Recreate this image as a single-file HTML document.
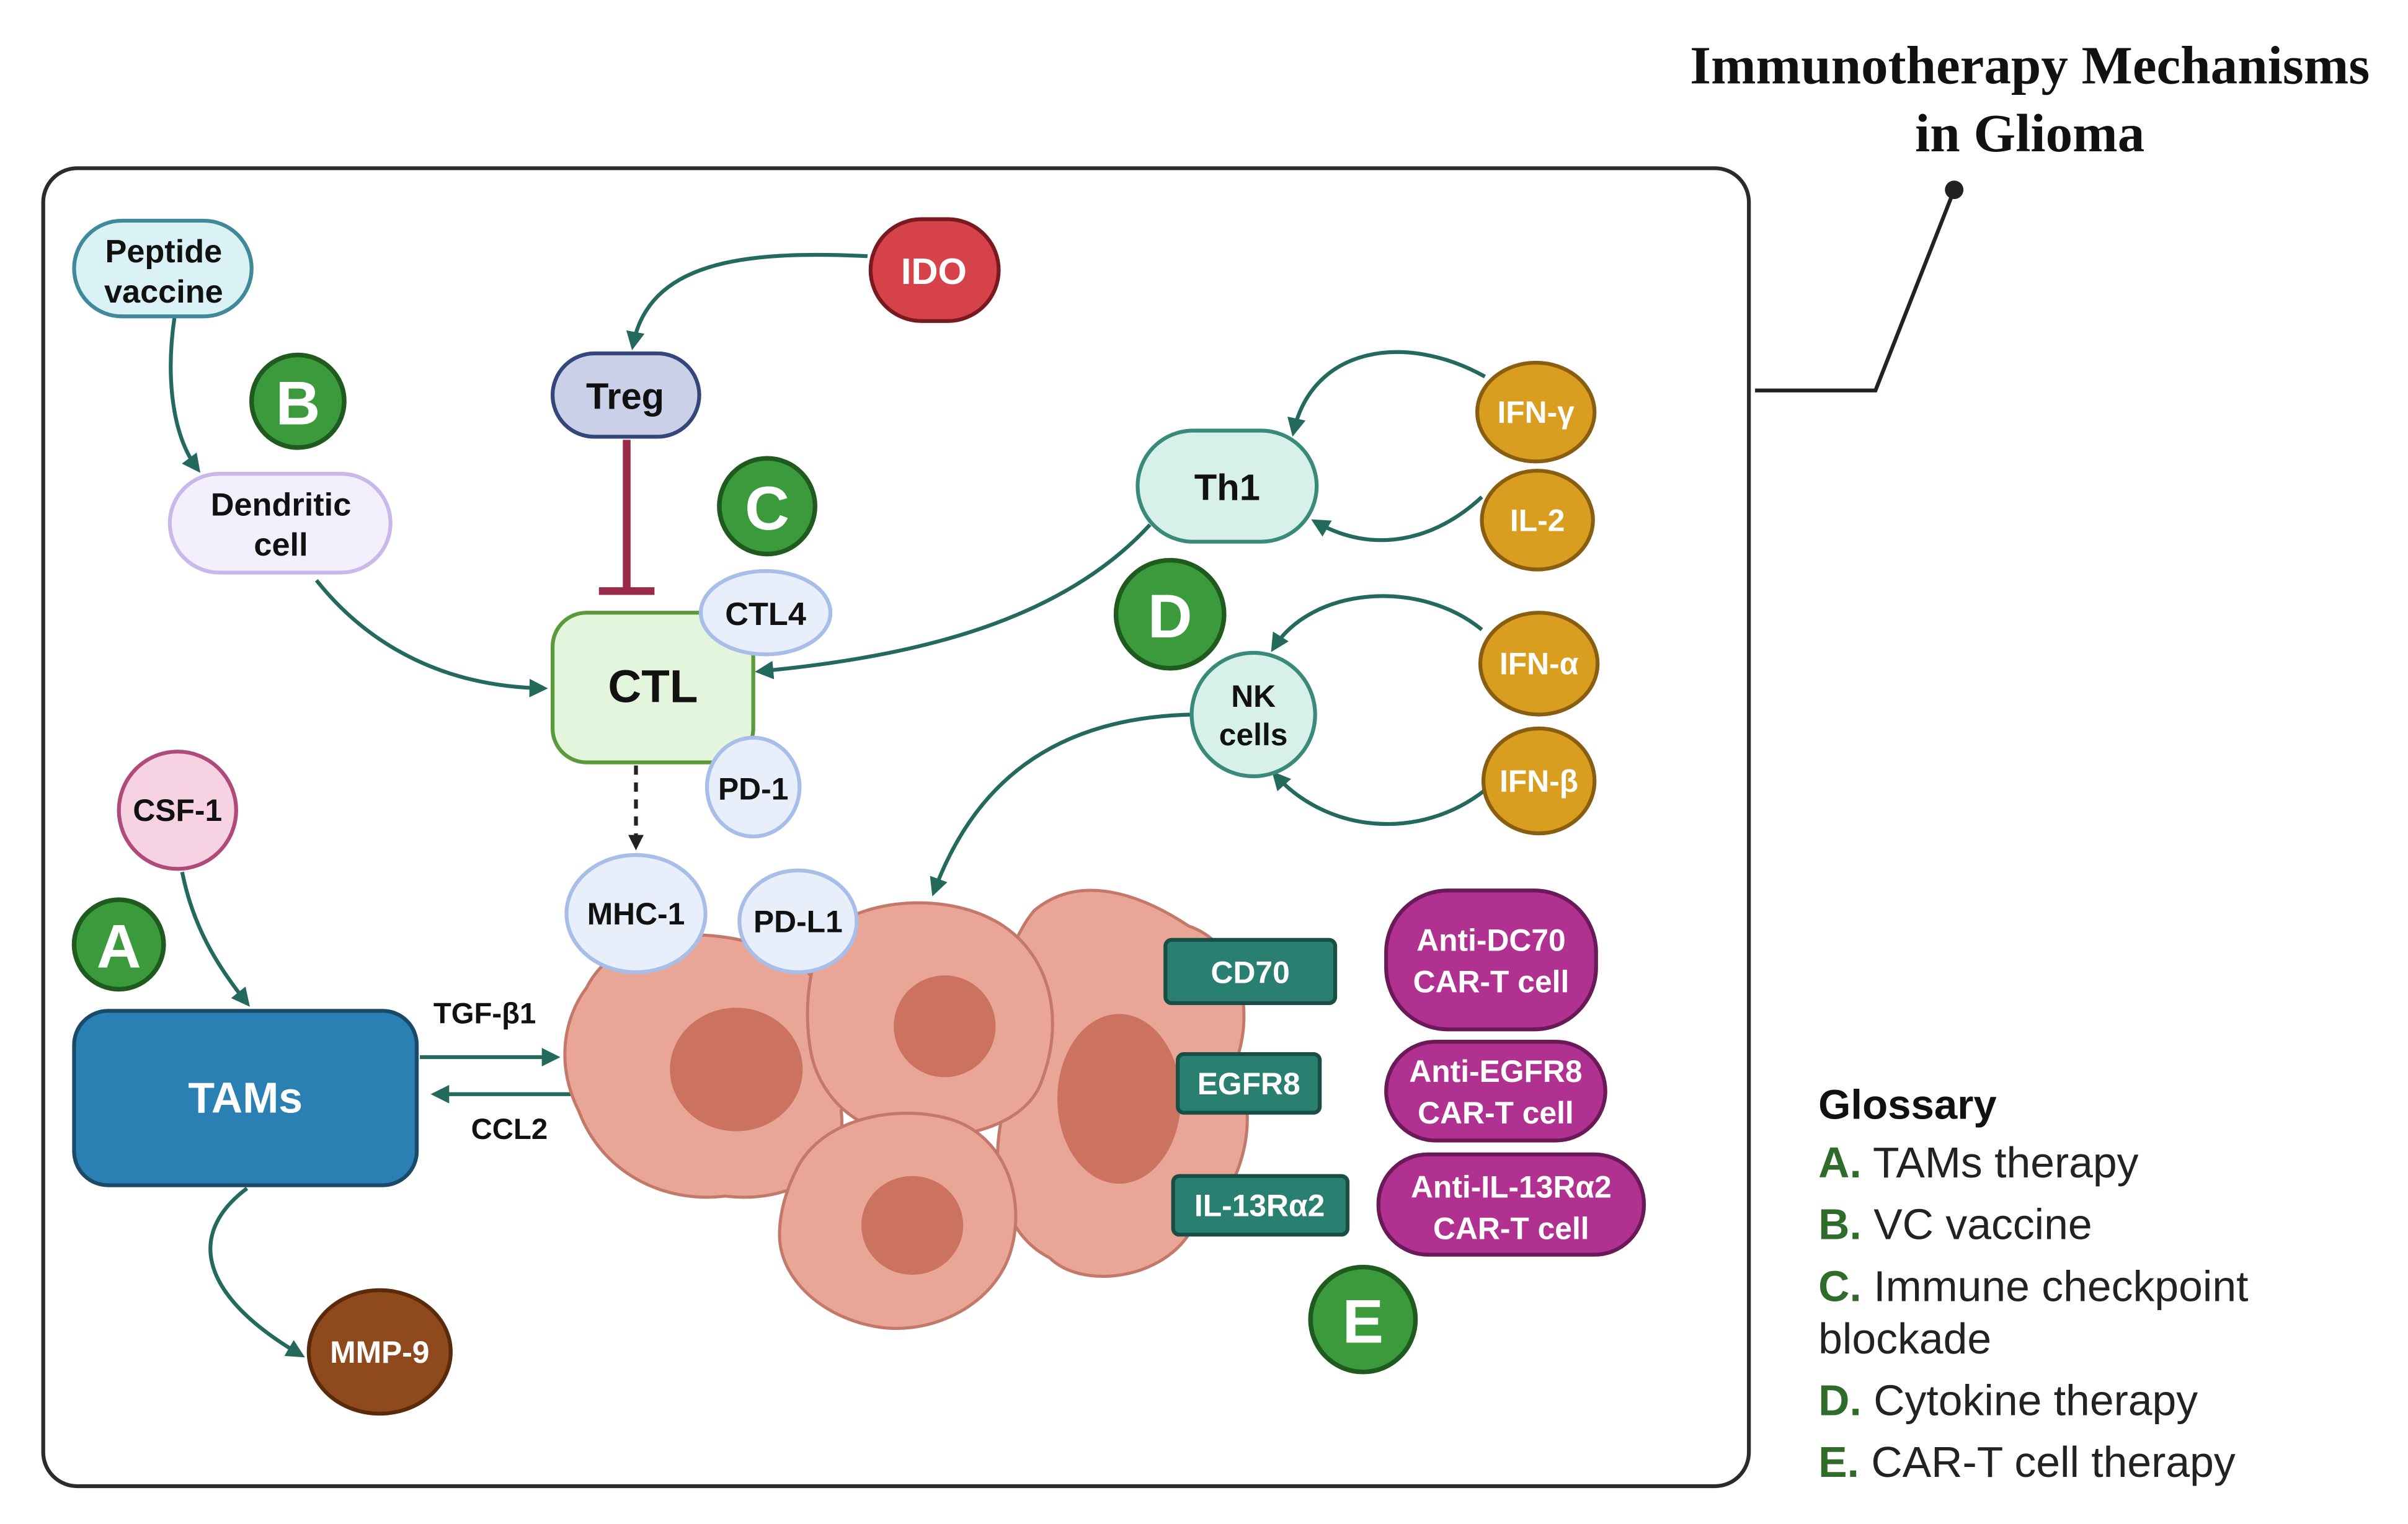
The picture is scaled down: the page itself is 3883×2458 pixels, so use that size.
<!DOCTYPE html>
<html><head><meta charset="utf-8">
<style>
html,body{margin:0;padding:0;background:#fff;}
svg{display:block;}
text{font-family:"Liberation Sans",sans-serif;font-weight:bold;}
text.n{font-weight:normal;}
</style></head><body>
<svg width="3883" height="2458" viewBox="0 0 1560 987.5" xmlns="http://www.w3.org/2000/svg">
<defs>
<marker id="ahk" markerWidth="10" markerHeight="10" refX="7" refY="5" orient="auto" markerUnits="userSpaceOnUse"><path d="M0,0 L10,5 L0,10 Z" fill="#222"/></marker>
<marker id="ah2" markerWidth="12" markerHeight="12" refX="9" refY="6" orient="auto" markerUnits="userSpaceOnUse"><path d="M0,0 L12,6 L0,12 Z" fill="#23695c"/></marker>
</defs>
<rect width="1560" height="987.5" fill="#fff"/>
<text x="1315" y="54" text-anchor="middle" font-size="35" fill="#111" style="font-family:'Liberation Serif',serif">Immunotherapy Mechanisms</text>
<text x="1315" y="98" text-anchor="middle" font-size="35" fill="#111" style="font-family:'Liberation Serif',serif">in Glioma</text>
<circle cx="1266" cy="123" r="6" fill="#222"/>
<polyline points="1266,123 1215,253 1137,253" fill="none" stroke="#222" stroke-width="2.5"/>
<rect x="28" y="109" width="1105" height="854" rx="22" fill="#fff" stroke="#2b2b2b" stroke-width="2.5"/>

<g fill="none" stroke="#23695c" stroke-width="2.5">
<path d="M113,206 C108,240 110,280 128,304" marker-end="url(#ah2)"/>
<path d="M562,166 C480,162 420,170 410,224" marker-end="url(#ah2)"/>
<path d="M205,376 C240,420 290,445 352,446" marker-end="url(#ah2)"/>
<path d="M745,340 C690,400 600,425 492,435" marker-end="url(#ah2)"/>
<path d="M962,244 C910,215 850,225 838,280" marker-end="url(#ah2)"/>
<path d="M960,322 C930,350 890,360 852,338" marker-end="url(#ah2)"/>
<path d="M960,408 C920,375 850,380 825,420" marker-end="url(#ah2)"/>
<path d="M962,512 C920,545 860,540 826,502" marker-end="url(#ah2)"/>
<path d="M772,463 C680,465 630,510 605,578" marker-end="url(#ah2)"/>
<path d="M118,565 C125,600 140,625 160,650" marker-end="url(#ah2)"/>
<path d="M160,770 C120,800 130,840 195,878" marker-end="url(#ah2)"/>
<path d="M272,685 L360,685" marker-end="url(#ah2)"/>
<path d="M375,709 L282,709" marker-end="url(#ah2)"/>
</g>
<line x1="406" y1="285" x2="406" y2="382" stroke="#9a2a4a" stroke-width="5"/>
<line x1="388" y1="383" x2="424" y2="383" stroke="#9a2a4a" stroke-width="5"/>
<line x1="412" y1="496" x2="412" y2="548" stroke="#222" stroke-width="2.5" stroke-dasharray="6,5" marker-end="url(#ahk)"/>

<g stroke="#c4786a" stroke-width="2" fill="#e9a595">
<path d="M670,590 C700,565 740,580 770,600 C800,610 815,650 800,690 C820,730 800,780 770,800 C750,830 700,835 680,815 C650,800 640,760 650,720 C640,680 645,620 670,590 Z"/>
<path d="M380,640 C400,600 460,600 500,615 C540,630 555,680 545,720 C550,760 510,780 470,775 C430,780 390,760 375,720 C360,690 365,660 380,640 Z"/>
<path d="M540,600 C570,580 620,580 650,600 C680,620 690,660 675,700 C665,730 620,740 590,735 C555,735 530,710 525,680 C520,650 525,615 540,600 Z"/>
<path d="M515,760 C530,725 580,715 615,725 C650,735 665,775 655,810 C645,845 605,865 570,860 C535,855 505,830 505,800 C505,785 510,770 515,760 Z"/>
</g>
<g fill="#cc7261">
<ellipse cx="477" cy="693" rx="43" ry="40"/>
<ellipse cx="612" cy="665" rx="33" ry="33"/>
<ellipse cx="725" cy="712" rx="40" ry="55"/>
<ellipse cx="591" cy="794" rx="33" ry="32"/>
</g>

<rect x="48" y="143" width="115" height="62" rx="31" fill="#daf1f6" stroke="#3f8a9a" stroke-width="2.5"/>
<text x="106" y="170" text-anchor="middle" font-size="21" fill="#111">Peptide</text>
<text x="106" y="196" text-anchor="middle" font-size="21" fill="#111">vaccine</text>

<rect x="110" y="307" width="143" height="64" rx="32" fill="#f4effd" stroke="#c9b9ea" stroke-width="2.5"/>
<text x="182" y="334" text-anchor="middle" font-size="21" fill="#111">Dendritic</text>
<text x="182" y="360" text-anchor="middle" font-size="21" fill="#111">cell</text>

<rect x="358" y="229" width="95" height="54" rx="27" fill="#c9d0e8" stroke="#34467a" stroke-width="2.5"/>
<text x="405" y="265" text-anchor="middle" font-size="24" fill="#111">Treg</text>

<rect x="564" y="142" width="83" height="66" rx="33" fill="#d6424a" stroke="#7a1a20" stroke-width="2.5"/>
<text x="605" y="184" text-anchor="middle" font-size="24" fill="#fff">IDO</text>

<rect x="358" y="397" width="130" height="97" rx="22" fill="#e3f5dd" stroke="#5a9a3a" stroke-width="2.5"/>
<text x="423" y="455" text-anchor="middle" font-size="30" fill="#111">CTL</text>
<ellipse cx="496" cy="397" rx="42" ry="27" fill="#e8effb" stroke="#a8bde8" stroke-width="2.5"/>
<text x="496" y="405" text-anchor="middle" font-size="21" fill="#111">CTL4</text>
<ellipse cx="488" cy="510" rx="30" ry="32" fill="#e8effb" stroke="#a8bde8" stroke-width="2.5"/>
<text x="488" y="518" text-anchor="middle" font-size="20" fill="#111">PD-1</text>

<rect x="737" y="279" width="116" height="72" rx="36" fill="#d8f0ea" stroke="#3a8a7a" stroke-width="2.5"/>
<text x="795" y="324" text-anchor="middle" font-size="24" fill="#111">Th1</text>

<circle cx="812" cy="463" r="40" fill="#d8f0ea" stroke="#3a8a7a" stroke-width="2.5"/>
<text x="812" y="458" text-anchor="middle" font-size="20" fill="#111">NK</text>
<text x="812" y="483" text-anchor="middle" font-size="20" fill="#111">cells</text>

<g fill="#d99e1f" stroke="#8a5e10" stroke-width="2.5">
<ellipse cx="995" cy="267" rx="38" ry="32"/>
<ellipse cx="996" cy="337" rx="36" ry="32"/>
<ellipse cx="997" cy="430" rx="38" ry="33"/>
<ellipse cx="997" cy="506" rx="36" ry="34"/>
</g>
<g fill="#fff" font-size="20" text-anchor="middle">
<text x="995" y="274">IFN-γ</text>
<text x="996" y="344">IL-2</text>
<text x="997" y="437">IFN-α</text>
<text x="997" y="513">IFN-β</text>
</g>

<circle cx="115" cy="525" r="38" fill="#f7d2e2" stroke="#b04a7a" stroke-width="2.5"/>
<text x="115" y="532" text-anchor="middle" font-size="20" fill="#111">CSF-1</text>

<rect x="48" y="655" width="222" height="113" rx="22" fill="#2a80b2" stroke="#1a4a6a" stroke-width="2.5"/>
<text x="159" y="721" text-anchor="middle" font-size="28" fill="#fff">TAMs</text>

<ellipse cx="246" cy="876" rx="46" ry="40" fill="#8e4a1c" stroke="#5a2a0a" stroke-width="2.5"/>
<text x="246" y="883" text-anchor="middle" font-size="20" fill="#fff">MMP-9</text>

<text x="314" y="663" text-anchor="middle" font-size="19" fill="#111">TGF-β1</text>
<text x="330" y="738" text-anchor="middle" font-size="19" fill="#111">CCL2</text>

<ellipse cx="412" cy="592" rx="45" ry="38" fill="#e8effb" stroke="#a8bde8" stroke-width="2.5"/>
<text x="412" y="599" text-anchor="middle" font-size="20" fill="#111">MHC-1</text>
<ellipse cx="517" cy="597" rx="38" ry="33" fill="#e8effb" stroke="#a8bde8" stroke-width="2.5"/>
<text x="517" y="604" text-anchor="middle" font-size="20" fill="#111">PD-L1</text>

<g fill="#2a8070" stroke="#184e44" stroke-width="2.5">
<rect x="755" y="609" width="110" height="41" rx="4"/>
<rect x="763" y="683" width="92" height="38" rx="4"/>
<rect x="760" y="762" width="113" height="38" rx="4"/>
</g>
<g fill="#fff" font-size="20" text-anchor="middle">
<text x="810" y="637">CD70</text>
<text x="809" y="709">EGFR8</text>
<text x="816" y="788">IL-13Rα2</text>
</g>

<g fill="#b0318f" stroke="#6a1a58" stroke-width="2.5">
<rect x="898" y="577" width="136" height="90" rx="40"/>
<rect x="898" y="675" width="142" height="64" rx="32"/>
<rect x="893" y="748" width="172" height="65" rx="32"/>
</g>
<g fill="#fff" font-size="20" text-anchor="middle">
<text x="966" y="616">Anti-DC70</text>
<text x="966" y="643">CAR-T cell</text>
<text x="969" y="701">Anti-EGFR8</text>
<text x="969" y="728">CAR-T cell</text>
<text x="979" y="776">Anti-IL-13Rα2</text>
<text x="979" y="803">CAR-T cell</text>
</g>

<g fill="#3b9a3b" stroke="#1f5a1f" stroke-width="3">
<circle cx="193" cy="260" r="30"/>
<circle cx="497" cy="328" r="31"/>
<circle cx="758" cy="398" r="35"/>
<circle cx="77" cy="612" r="29"/>
<circle cx="883" cy="855" r="34"/>
</g>
<g fill="#fff" font-size="40" text-anchor="middle">
<text x="193" y="275">B</text>
<text x="497" y="343">C</text>
<text x="758" y="413">D</text>
<text x="77" y="627">A</text>
<text x="883" y="870">E</text>
</g>

<text x="1178" y="725" font-size="27" fill="#111">Glossary</text>
<g font-size="28" fill="#222">
<text class="n" x="1178" y="763"><tspan fill="#2f6b2a" font-weight="bold">A.</tspan> TAMs therapy</text>
<text class="n" x="1178" y="803"><tspan fill="#2f6b2a" font-weight="bold">B.</tspan> VC vaccine</text>
<text class="n" x="1178" y="843"><tspan fill="#2f6b2a" font-weight="bold">C.</tspan> Immune checkpoint</text>
<text class="n" x="1178" y="877">blockade</text>
<text class="n" x="1178" y="917"><tspan fill="#2f6b2a" font-weight="bold">D.</tspan> Cytokine therapy</text>
<text class="n" x="1178" y="957"><tspan fill="#2f6b2a" font-weight="bold">E.</tspan> CAR-T cell therapy</text>
</g>
</svg>
</body></html>
